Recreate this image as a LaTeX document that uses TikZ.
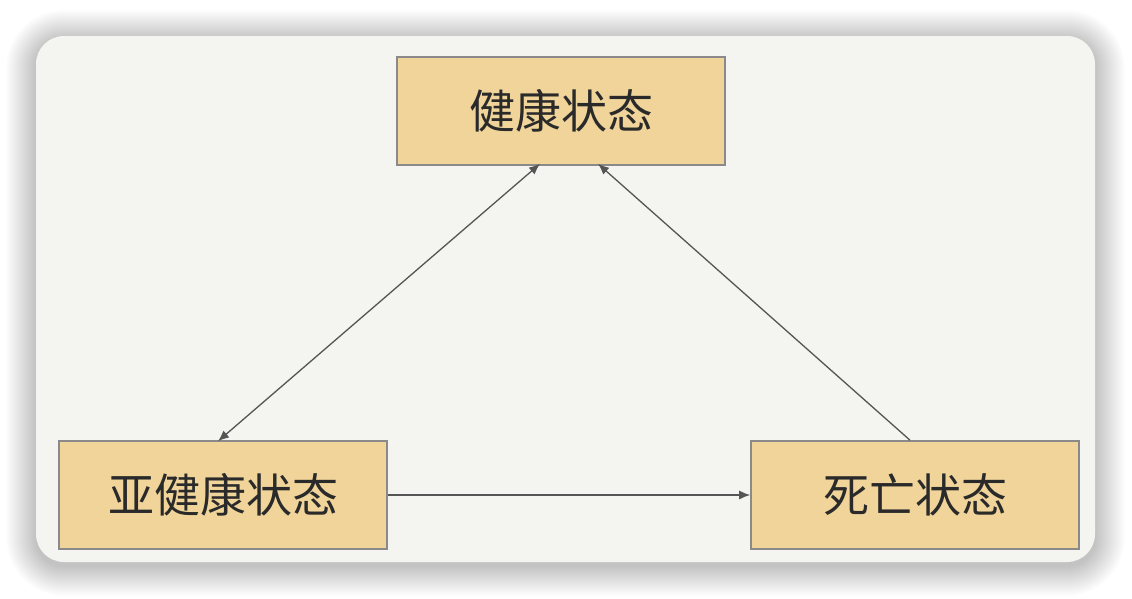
\documentclass[tikz,border=0pt]{standalone}
\usepackage{fontspec}
\newfontfamily\cjk{Noto Sans CJK SC}
\usetikzlibrary{arrows.meta}
\definecolor{cardbg}{HTML}{F4F4F0}
\definecolor{boxfill}{HTML}{F0D49A}
\definecolor{boxline}{HTML}{8A8A8A}
\definecolor{txt}{HTML}{2A2A2A}
\definecolor{arr}{HTML}{555555}
\tikzset{
  statebox/.style={draw=boxline, line width=1.6pt, fill=boxfill, minimum width=328pt, minimum height=108pt, inner sep=0pt, font=\cjk\fontsize{46}{54}\selectfont, text=txt},
  conn/.style={draw=arr, line width=1.3pt, -{Latex[length=11pt,width=9pt]}},
  dconn/.style={draw=arr, line width=1.3pt, {Latex[length=11pt,width=9pt]}-{Latex[length=11pt,width=9pt]}}
}
\begin{document}
\begin{tikzpicture}[x=1pt,y=-1pt]
\useasboundingbox (0,0) rectangle (1132,598);
\fill[white] (0,0) rectangle (1132,598);
\foreach \i in {1,...,30}{
  \fill[black!80!blue, opacity=0.0065, rounded corners={28+\i}] ({36-\i},{36-\i+4}) rectangle ({1095+\i},{562+\i+4});
}
\fill[cardbg, rounded corners=28] (36,36) rectangle (1095,562);
\node[statebox] (top) at (561,111) {健康状态};
\node[statebox] (bl) at (223,495) {亚健康状态};
\node[statebox] (br) at (915,495) {死亡状态};
\draw[dconn] ([xshift=-21pt,yshift=2pt]top.south) -- ([xshift=-5pt,yshift=-1pt]bl.north);
\draw[conn] ([xshift=-5pt]br.north) -- ([xshift=37pt,yshift=2pt]top.south);
\draw[conn] (bl.east) -- (br.west);
\end{tikzpicture}
\end{document}
